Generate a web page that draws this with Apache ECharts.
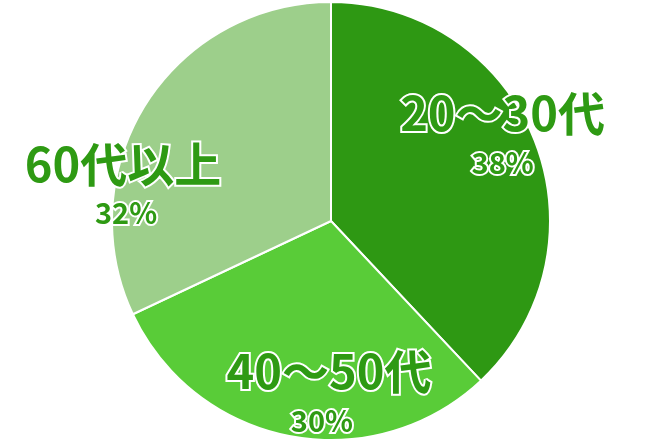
<!DOCTYPE html>
<html><head><meta charset="utf-8">
<script src="https://cdn.jsdelivr.net/npm/echarts@6/dist/echarts.min.js"></script>
<style>html,body{margin:0;padding:0;background:#fff}#c{width:661px;height:440px}</style>
</head><body><div id="c"></div>
<script>
var categories = ['20～30代', '40～50代', '60代以上'];
var values = [38, 30, 32];
var colors = ['#2e9813', '#59cc38', '#9dcf8b'];
var offsets = [[67, -46], [19, 60], [-113, 23]];
var pctShift = [0, -7, 3];

function rich(shift) {
  return {
    n: { fontFamily: 'Noto Sans CJK JP', fontWeight: 'bold', fontSize: 47, lineHeight: 58, color: '#2e9a13', textBorderColor: '#fff', textBorderWidth: 4 },
    p: { fontFamily: 'Noto Sans CJK JP', fontWeight: 'bold', fontSize: 29, lineHeight: 40, color: '#2e9a13', textBorderColor: '#fff', textBorderWidth: 4,
         padding: shift < 0 ? [0, -2 * shift, 0, 0] : [0, 0, 0, 2 * shift] }
  };
}

var chart = echarts.init(document.getElementById('c'));
chart.setOption({
  animation: false,
  series: [{
    type: 'pie',
    center: [331, 221],
    radius: 219,
    startAngle: 90,
    clockwise: true,
    data: categories.map(function (c, i) {
      return {
        name: c, value: values[i],
        itemStyle: { color: colors[i] },
        label: { offset: offsets[i], rich: rich(pctShift[i]) }
      };
    }),
    itemStyle: { borderColor: '#fff', borderWidth: 2 },
    labelLine: { show: false },
    label: {
      show: true,
      position: 'inside',
      formatter: function (p) { return '{n|' + p.name + '}\n{p|' + p.value + '%}'; },
      rich: rich(0)
    }
  }]
});
</script></body></html>
